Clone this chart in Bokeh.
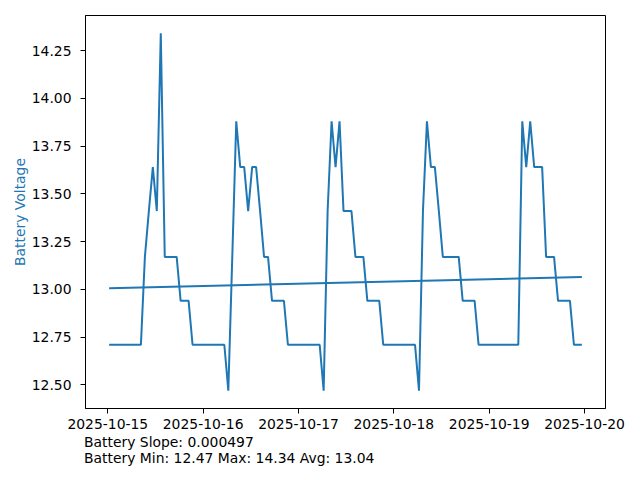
import numpy as np
import pandas as pd
from bokeh.plotting import figure
from bokeh.models import Range1d, FixedTicker, DatetimeTickFormatter, PrintfTickFormatter, Title
from bokeh.embed import file_html
from bokeh.resources import INLINE

# ---- data ----
start_time = "2025-10-15 00:20"
voltage = [
    12.71, 12.71, 12.71, 12.71, 12.71, 12.71, 12.71, 12.71, 12.71, 13.17,
    13.41, 13.64, 13.41, 14.34, 13.17, 13.17, 13.17, 13.17, 12.94, 12.94,
    12.94, 12.71, 12.71, 12.71, 12.71, 12.71, 12.71, 12.71, 12.71, 12.71,
    12.47, 13.17, 13.88, 13.64, 13.64, 13.41, 13.64, 13.64, 13.41, 13.17,
    13.17, 12.94, 12.94, 12.94, 12.94, 12.71, 12.71, 12.71, 12.71, 12.71,
    12.71, 12.71, 12.71, 12.71, 12.47, 13.41, 13.88, 13.64, 13.88, 13.41,
    13.41, 13.41, 13.17, 13.17, 13.17, 12.94, 12.94, 12.94, 12.94, 12.71,
    12.71, 12.71, 12.71, 12.71, 12.71, 12.71, 12.71, 12.71, 12.47, 13.41,
    13.88, 13.64, 13.64, 13.41, 13.17, 13.17, 13.17, 13.17, 13.17, 12.94,
    12.94, 12.94, 12.94, 12.71, 12.71, 12.71, 12.71, 12.71, 12.71, 12.71,
    12.71, 12.71, 12.71, 12.71, 13.88, 13.64, 13.88, 13.64, 13.64, 13.64,
    13.17, 13.17, 13.17, 12.94, 12.94, 12.94, 12.94, 12.71, 12.71, 12.71,
]
trend_slope = 0.000497
trend_intercept = 13.006
x_tick_labels = ["2025-10-15", "2025-10-16", "2025-10-17", "2025-10-18", "2025-10-19", "2025-10-20"]
y_ticks = [12.50, 12.75, 13.00, 13.25, 13.50, 13.75, 14.00, 14.25]

# ---- derived ----
times = pd.date_range(start_time, periods=len(voltage), freq="h")
v = np.array(voltage)
idx = np.arange(len(v))
trend = trend_intercept + trend_slope * idx

span = times[-1] - times[0]
x0 = times[0] - 0.05 * span
x1 = times[-1] + 0.05 * span
vmin, vmax = v.min(), v.max()
ypad = 0.05 * (vmax - vmin)

FONT = "DejaVu Sans"
FS = "13.9px"
BLUE = "#1f77b4"

p = figure(width=640, height=480, x_axis_type="datetime",
           output_backend="svg", toolbar_location=None,
           x_range=Range1d(x0, x1), y_range=Range1d(vmin - ypad, vmax + ypad),
           min_border_left=85, min_border_right=35, min_border_top=15, min_border_bottom=72)

p.line(times, v, line_color=BLUE, line_width=2)
p.line([times[0], times[-1]], [trend[0], trend[-1]], line_color=BLUE, line_width=2)

p.grid.visible = False
p.outline_line_color = "black"
p.outline_line_width = 1
p.outline_line_alpha = 1
p.background_fill_color = "white"
p.border_fill_color = "white"

tick_ms = [pd.Timestamp(t).value / 1e6 for t in x_tick_labels]
p.xaxis.ticker = FixedTicker(ticks=tick_ms)
fmt = "%Y-%m-%d"
p.xaxis.formatter = DatetimeTickFormatter(milliseconds=fmt, seconds=fmt, minsec=fmt, minutes=fmt,
                                          hourmin=fmt, hours=fmt, days=fmt, months=fmt, years=fmt)
p.yaxis.ticker = FixedTicker(ticks=y_ticks)
p.yaxis.formatter = PrintfTickFormatter(format="%.2f")

for ax in (p.xaxis, p.yaxis):
    ax.major_label_text_font = FONT
    ax.major_label_text_font_size = FS
    ax.major_label_text_color = "black"
    ax.major_tick_out = 5
    ax.major_tick_in = 0
    ax.minor_tick_out = 0
    ax.minor_tick_in = 0
    ax.axis_line_color = "black"
    ax.major_tick_line_color = "black"

p.xaxis.major_label_standoff = 5
p.yaxis.major_label_standoff = 9

p.yaxis.axis_label = "Battery Voltage"
p.yaxis.axis_label_text_color = BLUE
p.yaxis.axis_label_text_font = FONT
p.yaxis.axis_label_text_font_size = FS
p.yaxis.axis_label_text_font_style = "normal"
p.yaxis.axis_label_standoff = 1

line1 = f"Battery Slope: {trend_slope:.6f}"
line2 = f"Battery Min: {vmin:.2f} Max: {vmax:.2f} Avg: {v.mean():.2f}"
for txt, so in ((line1, 0), (line2, -3)):
    p.add_layout(Title(text=txt, align="left", text_font=FONT, text_font_size=FS,
                       text_font_style="normal", text_color="black", standoff=so, offset=-1.5), "below")

open("out.html", "w").write(file_html(p, INLINE))
